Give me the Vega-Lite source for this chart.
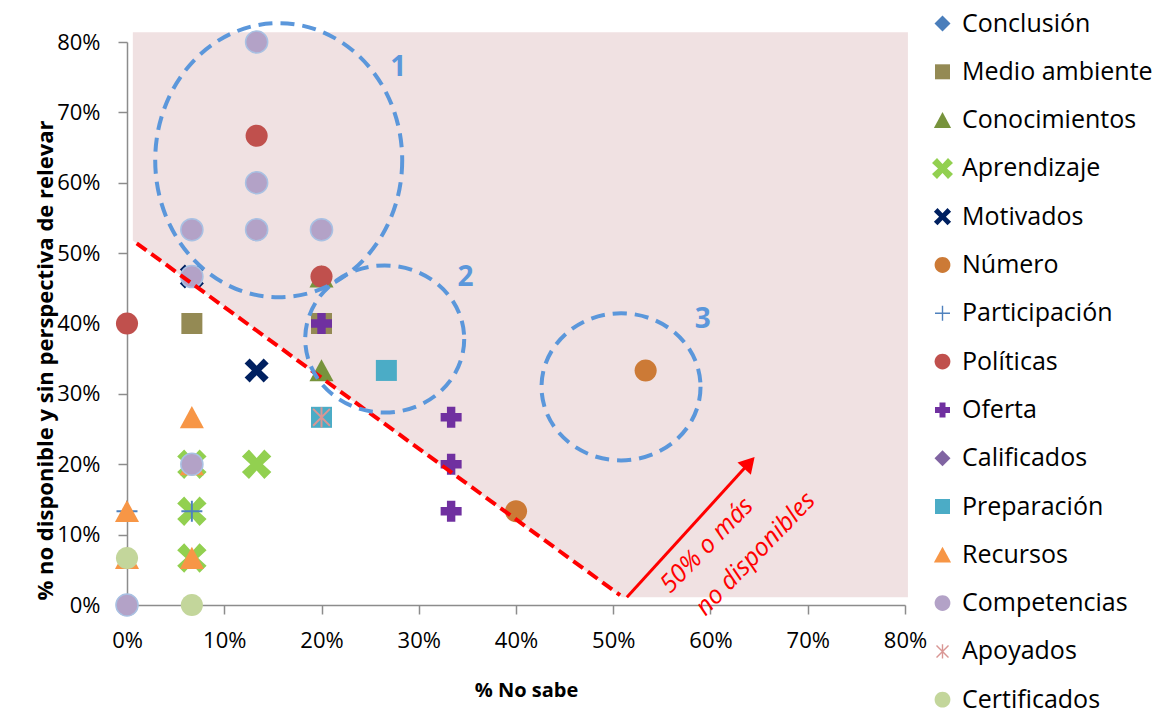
{
  "$schema": "https://vega.github.io/schema/vega-lite/v6.json",
  "width": 778,
  "height": 563,
  "autosize": {"type": "none"},
  "padding": {"left": 127, "top": 42, "right": 259, "bottom": 110},
  "background": "white",
  "config": {
    "view": {"stroke": null},
    "font": "Open Sans",
    "axis": {
      "labelFont": "Open Sans", "labelFontSize": 22, "labelColor": "#000000", "labelFlush": false,
      "titleFont": "Open Sans", "titleFontSize": 20, "titleFontWeight": "bold", "titleColor": "#000000",
      "domainColor": "#8C8C8C", "domainWidth": 1.5, "tickColor": "#8C8C8C", "tickWidth": 1.5, "tickSize": 9, "grid": false
    },
    "legend": {"labelFont": "Open Sans", "labelFontSize": 25, "labelColor": "#000000"}
  },
  "datasets": {
    "puntos": [
      {"serie": "Conclusión", "x": 0, "y": 0},
      {"serie": "Medio ambiente", "x": 0.0667, "y": 0.4},
      {"serie": "Medio ambiente", "x": 0.2, "y": 0.4},
      {"serie": "Conocimientos", "x": 0.2, "y": 0.3333},
      {"serie": "Conocimientos", "x": 0.2, "y": 0.4667},
      {"serie": "Aprendizaje", "x": 0.0667, "y": 0.2},
      {"serie": "Aprendizaje", "x": 0.1333, "y": 0.2},
      {"serie": "Aprendizaje", "x": 0.0667, "y": 0.1333},
      {"serie": "Aprendizaje", "x": 0.0667, "y": 0.0667},
      {"serie": "Motivados", "x": 0.1333, "y": 0.3333},
      {"serie": "Motivados", "x": 0.0667, "y": 0.4667},
      {"serie": "Número", "x": 0.5333, "y": 0.3333},
      {"serie": "Número", "x": 0.4, "y": 0.1333},
      {"serie": "Participación", "x": 0, "y": 0.1333},
      {"serie": "Participación", "x": 0.0667, "y": 0.1333},
      {"serie": "Políticas", "x": 0, "y": 0.4},
      {"serie": "Políticas", "x": 0.1333, "y": 0.6667},
      {"serie": "Políticas", "x": 0.2, "y": 0.4667},
      {"serie": "Políticas", "x": 0, "y": 0},
      {"serie": "Oferta", "x": 0.2, "y": 0.4},
      {"serie": "Oferta", "x": 0.3333, "y": 0.2667},
      {"serie": "Oferta", "x": 0.3333, "y": 0.2},
      {"serie": "Oferta", "x": 0.3333, "y": 0.1333},
      {"serie": "Oferta", "x": 0.1333, "y": 0.5333},
      {"serie": "Calificados", "x": 0, "y": 0.0667},
      {"serie": "Preparación", "x": 0.2667, "y": 0.3333},
      {"serie": "Preparación", "x": 0.2, "y": 0.2667},
      {"serie": "Recursos", "x": 0.0667, "y": 0.2667},
      {"serie": "Recursos", "x": 0, "y": 0.1333},
      {"serie": "Recursos", "x": 0.0667, "y": 0.0667},
      {"serie": "Recursos", "x": 0.0667, "y": 0.2},
      {"serie": "Recursos", "x": 0, "y": 0.0667},
      {"serie": "Competencias", "x": 0.1333, "y": 0.8},
      {"serie": "Competencias", "x": 0.1333, "y": 0.6},
      {"serie": "Competencias", "x": 0.0667, "y": 0.5333},
      {"serie": "Competencias", "x": 0.1333, "y": 0.5333},
      {"serie": "Competencias", "x": 0.2, "y": 0.5333},
      {"serie": "Competencias", "x": 0.0667, "y": 0.4667},
      {"serie": "Competencias", "x": 0.0667, "y": 0.2},
      {"serie": "Competencias", "x": 0, "y": 0},
      {"serie": "Apoyados", "x": 0.2, "y": 0.2667},
      {"serie": "Certificados", "x": 0, "y": 0.0667},
      {"serie": "Certificados", "x": 0.0667, "y": 0}
    ],
    "zona": [
      {"x": 0.006, "y": 0.814, "y2": 0.518},
      {"x": 0.509, "y": 0.814, "y2": 0.011},
      {"x": 0.803, "y": 0.814, "y2": 0.011}
    ],
    "limite": [{"x": 0.010, "y": 0.514, "x2": 0.507, "y2": 0.014}],
    "flecha": [{"x": 0.514, "y": 0.011, "x2": 0.640, "y2": 0.202}],
    "punta": [{"x": 0.640, "y": 0.202}],
    "elipse1": [{"x": 0.156, "y": 0.632}],
    "elipses23": [{"x": 0.265, "y": 0.378}, {"x": 0.508, "y": 0.310}],
    "numeros": [
      {"x": 0.279, "y": 0.763, "t": "1"},
      {"x": 0.348, "y": 0.465, "t": "2"},
      {"x": 0.592, "y": 0.405, "t": "3"}
    ],
    "textos": [
      {"x": 0.596, "y": 0.085, "t": "50% o más"},
      {"x": 0.646, "y": 0.073, "t": "no disponibles"}
    ]
  },
  "encoding": {
    "x": {"field": "x", "type": "quantitative",
      "scale": {"domain": [0, 0.8], "nice": false, "zero": false},
      "axis": {"title": "% No sabe", "format": ".0%", "values": [0, 0.1, 0.2, 0.3, 0.4, 0.5, 0.6, 0.7, 0.8], "labelPadding": 16, "titleX": 399, "titleY": 85, "titleBaseline": "middle"}},
    "y": {"field": "y", "type": "quantitative",
      "scale": {"domain": [0, 0.8], "nice": false, "zero": false},
      "axis": {"title": "% no disponible  y sin perspectiva de relevar", "format": ".0%", "values": [0, 0.1, 0.2, 0.3, 0.4, 0.5, 0.6, 0.7, 0.8], "labelPadding": 18, "titleX": -82, "titleY": 318, "titleAlign": "center", "titleBaseline": "middle", "titleAngle": -90, "titleFontSize": 22}}
  },
  "layer": [
    {
      "data": {"name": "zona"},
      "mark": {"type": "area", "color": "#F0E1E2", "opacity": 1},
      "encoding": {"y2": {"field": "y2"}}
    },
    {
      "data": {"name": "puntos"},
      "mark": {"type": "point", "filled": true, "opacity": 1, "size": 784, "strokeWidth": 1.5},
      "encoding": {
        "color": {"field": "serie", "type": "nominal",
          "scale": {
            "domain": ["Conclusión", "Medio ambiente", "Conocimientos", "Aprendizaje", "Motivados", "Número", "Participación", "Políticas", "Oferta", "Calificados", "Preparación", "Recursos", "Competencias", "Apoyados", "Certificados"],
            "range": ["#4A7EBB", "#948A54", "#77933C", "#92D050", "#002060", "#CC7A36", "#4F81BD", "#C0504D", "#7030A0", "#8064A2", "#4BACC6", "#F79646", "#B3A2C7", "#D99694", "#C3D69B"]
          },
          "legend": {"title": null, "orient": "none", "legendX": 803, "legendY": -31, "symbolSize": 400, "rowPadding": 22.3, "labelOffset": 7, "labelLimit": 300, "symbolStrokeWidth": 0, "padding": 0}
        },
        "shape": {"field": "serie", "type": "nominal",
          "scale": {
            "domain": ["Conclusión", "Medio ambiente", "Conocimientos", "Aprendizaje", "Motivados", "Número", "Participación", "Políticas", "Oferta", "Calificados", "Preparación", "Recursos", "Competencias", "Apoyados", "Certificados"],
            "range": [
              "M 0 -0.8 L 0.8 0 L 0 0.8 L -0.8 0 Z",
              "M -0.75 -0.75 L 0.75 -0.75 L 0.75 0.75 L -0.75 0.75 Z",
              "M 0 -0.8 L 0.86 0.78 L -0.86 0.78 Z",
              "M -1.05 -0.55 L -0.55 -1.05 L 0 -0.45 L 0.55 -1.05 L 1.05 -0.55 L 0.45 0 L 1.05 0.55 L 0.55 1.05 L 0 0.45 L -0.55 1.05 L -1.05 0.55 L -0.45 0 Z",
              "M -0.86 -0.5 L -0.5 -0.86 L 0 -0.34 L 0.5 -0.86 L 0.86 -0.5 L 0.34 0 L 0.86 0.5 L 0.5 0.86 L 0 0.34 L -0.5 0.86 L -0.86 0.5 L -0.34 0 Z",
              "M 0.79 0 C 0.79 0.436 0.436 0.79 0 0.79 C -0.436 0.79 -0.79 0.436 -0.79 0 C -0.79 -0.436 -0.436 -0.79 0 -0.79 C 0.436 -0.79 0.79 -0.436 0.79 0 Z",
              "M -0.75 -0.07 L 0.75 -0.07 L 0.75 0.07 L -0.75 0.07 Z M -0.07 -0.75 L 0.07 -0.75 L 0.07 0.75 L -0.07 0.75 Z",
              "M 0.79 0 C 0.79 0.436 0.436 0.79 0 0.79 C -0.436 0.79 -0.79 0.436 -0.79 0 C -0.79 -0.436 -0.436 -0.79 0 -0.79 C 0.436 -0.79 0.79 -0.436 0.79 0 Z",
              "M -0.3 -0.75 L 0.3 -0.75 L 0.3 -0.3 L 0.75 -0.3 L 0.75 0.3 L 0.3 0.3 L 0.3 0.75 L -0.3 0.75 L -0.3 0.3 L -0.75 0.3 L -0.75 -0.3 L -0.3 -0.3 Z",
              "M 0 -0.8 L 0.8 0 L 0 0.8 L -0.8 0 Z",
              "M -0.75 -0.75 L 0.75 -0.75 L 0.75 0.75 L -0.75 0.75 Z",
              "M 0 -0.8 L 0.86 0.78 L -0.86 0.78 Z",
              "M 0.79 0 C 0.79 0.436 0.436 0.79 0 0.79 C -0.436 0.79 -0.79 0.436 -0.79 0 C -0.79 -0.436 -0.436 -0.79 0 -0.79 C 0.436 -0.79 0.79 -0.436 0.79 0 Z",
              "M -0.07 -0.72 L 0.07 -0.72 L 0.07 0.72 L -0.07 0.72 Z M -0.55 -0.65 L 0.65 0.55 L 0.55 0.65 L -0.65 -0.55 Z M 0.65 -0.55 L -0.55 0.65 L -0.65 0.55 L 0.55 -0.65 Z",
              "M 0.79 0 C 0.79 0.436 0.436 0.79 0 0.79 C -0.436 0.79 -0.79 0.436 -0.79 0 C -0.79 -0.436 -0.436 -0.79 0 -0.79 C 0.436 -0.79 0.79 -0.436 0.79 0 Z"
            ]
          },
          "legend": {"title": null}
        },
        "stroke": {"condition": {"test": "datum.serie === 'Competencias'", "value": "#A9C1E3"}, "value": null}
      }
    },
    {
      "data": {"name": "limite"},
      "mark": {"type": "rule", "color": "#FF0000", "strokeWidth": 4, "strokeDash": [12, 6]},
      "encoding": {"x2": {"field": "x2"}, "y2": {"field": "y2"}}
    },
    {
      "data": {"name": "elipse1"},
      "mark": {"type": "point", "filled": false, "opacity": 1, "stroke": "#5B97DB", "strokeWidth": 4, "strokeDash": [14, 8], "size": 61009,
        "shape": "M 1 0 C 1 0.613 0.5523 1.11 0 1.11 C -0.5523 1.11 -1 0.613 -1 0 C -1 -0.613 -0.5523 -1.11 0 -1.11 C 0.5523 -1.11 1 -0.613 1 0 Z"}
    },
    {
      "data": {"name": "elipses23"},
      "mark": {"type": "point", "filled": false, "opacity": 1, "stroke": "#5B97DB", "strokeWidth": 4, "strokeDash": [14, 8], "size": 25281,
        "shape": "M 1 0 C 1 0.511 0.5523 0.925 0 0.925 C -0.5523 0.925 -1 0.511 -1 0 C -1 -0.511 -0.5523 -0.925 0 -0.925 C 0.5523 -0.925 1 -0.511 1 0 Z"}
    },
    {
      "data": {"name": "flecha"},
      "mark": {"type": "rule", "color": "#FF0000", "strokeWidth": 3},
      "encoding": {"x2": {"field": "x2"}, "y2": {"field": "y2"}}
    },
    {
      "data": {"name": "punta"},
      "mark": {"type": "point", "shape": "triangle-up", "filled": true, "color": "#FF0000", "opacity": 1, "size": 324, "angle": 42}
    },
    {
      "data": {"name": "numeros"},
      "mark": {"type": "text", "color": "#5B97DB", "font": "Open Sans", "fontSize": 28, "fontWeight": "bold", "align": "center", "baseline": "middle"},
      "encoding": {"text": {"field": "t"}}
    },
    {
      "data": {"name": "textos"},
      "mark": {"type": "text", "color": "#FF0000", "font": "Open Sans", "fontSize": 25, "fontStyle": "italic", "align": "center", "baseline": "middle", "angle": -46},
      "encoding": {"text": {"field": "t"}}
    }
  ]
}
